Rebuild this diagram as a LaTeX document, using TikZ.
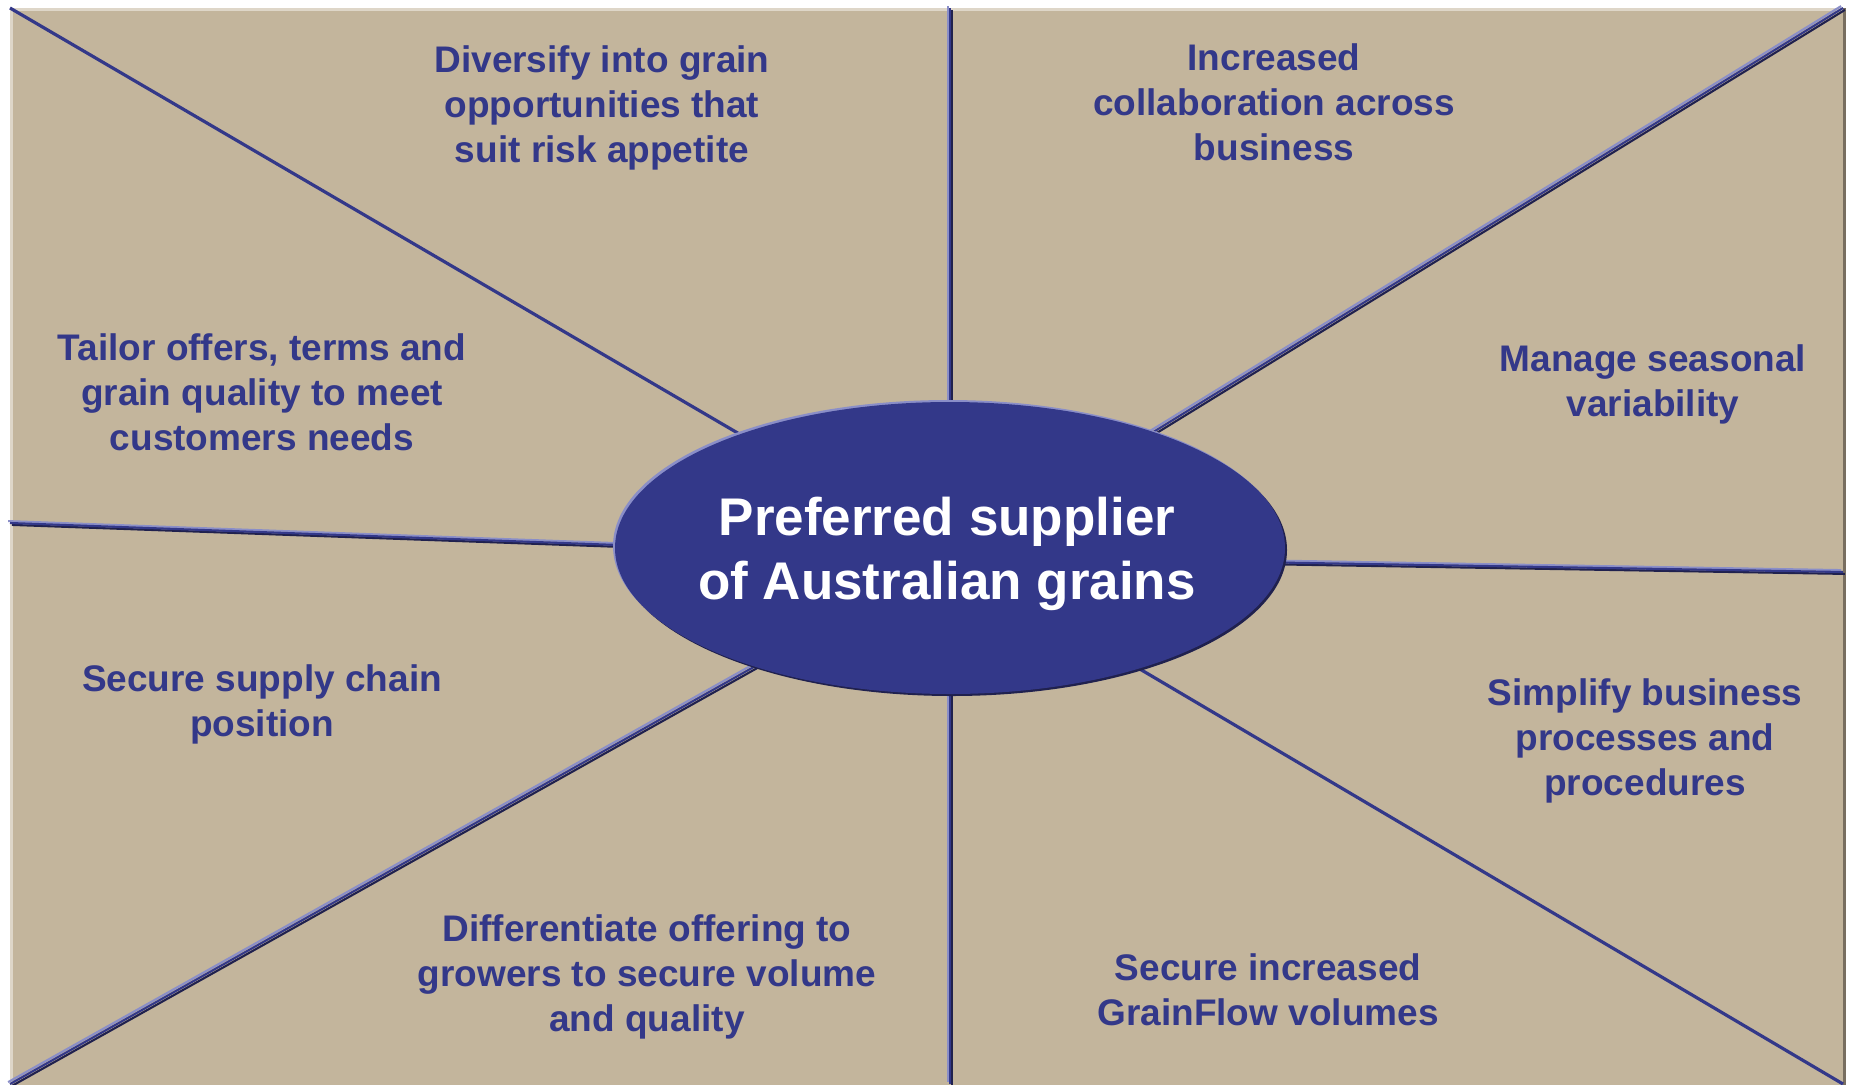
\documentclass[tikz,border=0pt]{standalone}
\usepackage{fontspec}
\setmainfont{Liberation Sans}
\definecolor{panel}{RGB}{195,181,156}
\definecolor{panellight}{RGB}{222,214,200}
\definecolor{paneldark}{RGB}{120,110,96}
\definecolor{navy}{RGB}{51,56,137}
\definecolor{navylight}{RGB}{138,142,200}
\definecolor{navydark}{RGB}{32,33,78}
\tikzset{
  lbl/.style={text=navy, font=\bfseries\fontsize{37}{45}\selectfont, align=center, inner sep=0pt},
  single/.style={draw=navy, line width=3.2pt},
  hubtext/.style={text=white, font=\bfseries\fontsize{53}{64}\selectfont, align=center, inner sep=0pt},
  hubdisc/.style={x radius=335, y radius=146},
}
% three-tone bevelled spoke: light edge up-left, dark edge down-right
\newcommand{\bevelspoke}[2]{%
  \draw[navylight, line width=2.1pt] ([shift={(-1.9,-1.9)}]#1) -- ([shift={(-1.9,-1.9)}]#2);
  \draw[navydark, line width=2.1pt] ([shift={(1.9,1.9)}]#1) -- ([shift={(1.9,1.9)}]#2);
  \draw[navy, line width=2.1pt] (#1) -- (#2);
}
\begin{document}
\begin{tikzpicture}[x=1pt, y=-1pt]
  \useasboundingbox (0,0) rectangle (1849,1084);
  \fill[white] (0,0) rectangle (1849,1084);
  % panel
  \fill[panel] (10,8) rectangle (1846,1090);
  \draw[panellight, line width=3pt] (11.5,1090) -- (11.5,9.5) -- (1843,9.5);
  \draw[paneldark, line width=3pt] (1844.5,8) -- (1844.5,1090);

  % spoke ends
  \coordinate (hub) at (950,557);
  \coordinate (tl) at (10,8);
  \coordinate (top) at (950,8);
  \coordinate (tr) at (1843,8);
  \coordinate (lft) at (10,523);
  \coordinate (rgt) at (1843,572);
  \coordinate (bl) at (10,1084);
  \coordinate (bot) at (950,1084);
  \coordinate (br) at (1843,1084);

  \draw[single] (tl) -- (hub);
  \draw[single] (br) -- (hub);
  \bevelspoke{top}{hub}
  \bevelspoke{bot}{hub}
  \bevelspoke{tr}{hub}
  \bevelspoke{bl}{hub}
  \bevelspoke{lft}{hub}
  \bevelspoke{rgt}{hub}

  % central ellipse with bevelled rim
  \coordinate (ec) at (950,548);
  \fill[navydark] ([shift={(2,2)}]ec) ellipse [hubdisc];
  \fill[navylight] ([shift={(-2,-2)}]ec) ellipse [hubdisc];
  \fill[navy] (ec) ellipse [hubdisc];
  \node[hubtext] (core) at (947,554) {Preferred supplier\\of Australian grains};

  % labels
  \node[lbl] (n1) at (602,107.5) {Diversify into grain\\opportunities that\\suit risk appetite};
  \node[lbl] (n2) at (1274,102) {Increased\\collaboration across\\business};
  \node[lbl] (n3) at (262,392) {Tailor offers, terms and\\grain quality to meet\\customers needs};
  \node[lbl] (n4) at (1653,384.5) {Manage seasonal\\variability};
  \node[lbl] (n5) at (262,704.5) {Secure supply chain\\position};
  \node[lbl] (n6) at (1645,740.5) {Simplify business\\processes and\\procedures};
  \node[lbl] (n7) at (647,976.5) {Differentiate offering to\\growers to secure volume\\and quality};
  \node[lbl] (n8) at (1268,990) {Secure increased\\GrainFlow volumes};
\end{tikzpicture}
\end{document}
